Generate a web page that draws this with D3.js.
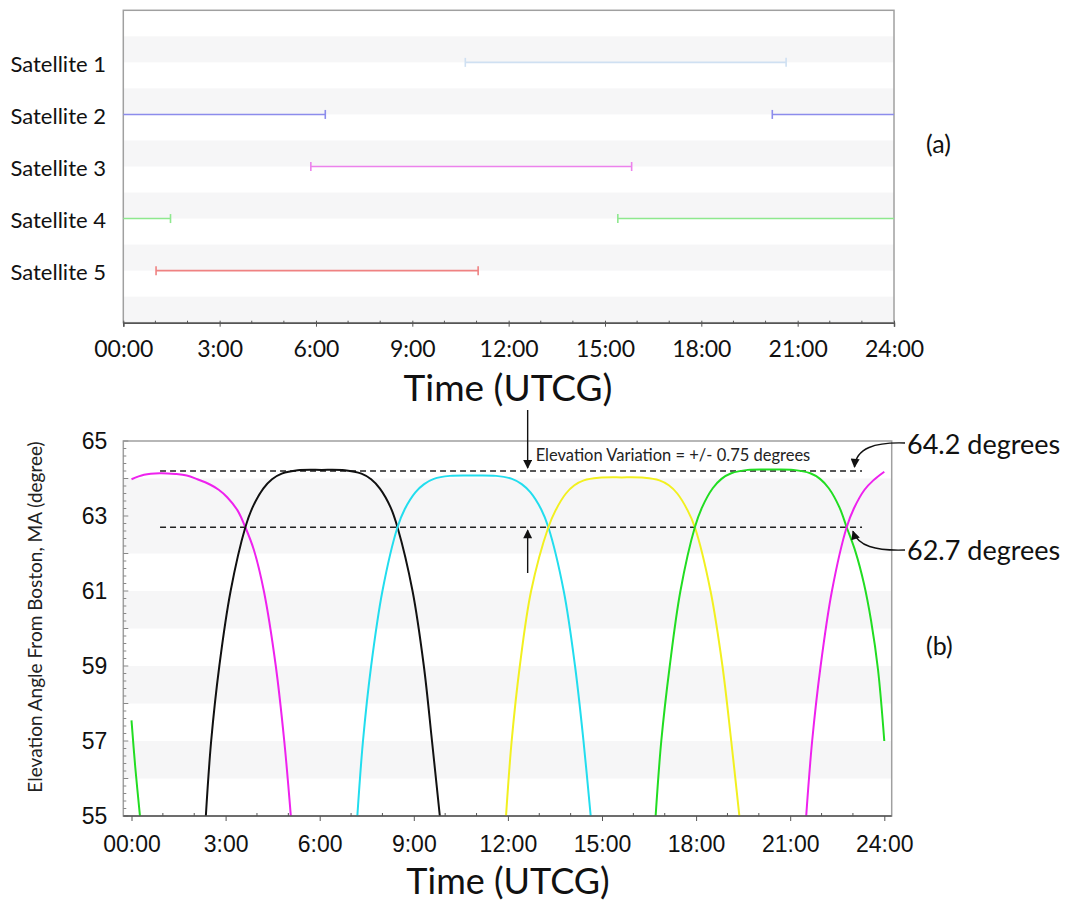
<!DOCTYPE html>
<html>
<head>
<meta charset="utf-8">
<script src="https://cdn.jsdelivr.net/npm/d3@7"></script>
<style>
  body { margin: 0; background: #fff; }
  svg { display: block; font-family: Lato, "Open Sans", sans-serif; }
</style>
</head>
<body>
<div id="chart"></div>
<script>
// ---- data ----
const satellites = ["Satellite 1", "Satellite 2", "Satellite 3", "Satellite 4", "Satellite 5"];
const satColors = ["#cfe0f2", "#8c8cec", "#ec82ec", "#8ee88e", "#ef8282"];
// access windows per satellite, hours UTCG
const accessWindows = [
  [[10.65, 20.64]],
  [[0, 6.29], [20.21, 24]],
  [[5.84, 15.83]],
  [[0, 1.47], [15.4, 24]],
  [[1.02, 11.05]]
];

const hourTicks = [0, 3, 6, 9, 12, 15, 18, 21, 24];
const elevTicks = [55, 57, 59, 61, 63, 65];

// elevation passes [hour, degrees]
const passGreenA = [[0, 57.55], [0.12, 56.3], [0.27, 55]];
const passMagentaA = [[0, 63.98], [0.4, 64.1], [0.9, 64.14], [1.4, 64.12], [1.76, 64.08], [2.1, 63.98],
  [2.5, 63.84], [2.78, 63.7], [3.05, 63.5], [3.38, 63.15], [3.63, 62.7], [3.9, 62.1], [4.22, 61],
  [4.6, 59], [4.87, 57], [5.08, 55]];
const passBlack = [[2.37, 55], [2.54, 57], [2.8, 59], [3.16, 61], [3.63, 62.7], [3.86, 63.23], [4.2, 63.73],
  [4.48, 63.98], [4.79, 64.13], [5.3, 64.22], [6.06, 64.23], [6.8, 64.22], [7.33, 64.13], [7.64, 63.98],
  [7.92, 63.73], [8.26, 63.23], [8.48, 62.7], [8.96, 61], [9.32, 59], [9.58, 57], [9.83, 55]];
const passCyan = [[7.2, 55], [7.38, 57], [7.64, 59], [8.0, 61], [8.48, 62.7], [8.71, 63.18], [9.05, 63.63],
  [9.33, 63.85], [9.64, 63.99], [10.15, 64.07], [10.89, 64.08], [11.62, 64.07], [12.13, 63.99],
  [12.44, 63.85], [12.72, 63.63], [13.06, 63.18], [13.29, 62.7], [13.78, 61], [14.14, 59], [14.41, 57], [14.64, 55]];
const passYellow = [[11.94, 55], [12.12, 57], [12.38, 59], [12.74, 61], [13.29, 62.7], [13.52, 63.15],
  [13.85, 63.6], [14.12, 63.82], [14.42, 63.95], [14.9, 64.02], [15.63, 64.03], [16.35, 64.02],
  [16.83, 63.95], [17.13, 63.82], [17.4, 63.6], [17.73, 63.15], [17.96, 62.7], [18.46, 61],
  [18.84, 59], [19.12, 57], [19.38, 55]];
const passGreenB = [[16.71, 55], [16.89, 57], [17.16, 59], [17.5, 61], [17.96, 62.7], [18.19, 63.23],
  [18.53, 63.74], [18.81, 63.99], [19.12, 64.14], [19.65, 64.23], [20.38, 64.24], [21.1, 64.23],
  [21.64, 64.14], [21.95, 63.99], [22.23, 63.74], [22.57, 63.23], [22.8, 62.7], [23.08, 62.05],
  [23.35, 61.2], [23.58, 60.2], [23.8, 58.9], [24, 57]];
const passMagentaB = [[21.51, 55], [21.7, 57], [21.97, 59], [22.33, 61], [22.8, 62.7], [23.03, 63.2],
  [23.37, 63.7], [23.65, 63.95], [24, 64.18]];

const passes = [
  { pts: passGreenA, color: "#22dd22" },
  { pts: passMagentaA, color: "#ee22ee" },
  { pts: passBlack, color: "#111111" },
  { pts: passCyan, color: "#22ddee" },
  { pts: passYellow, color: "#f2f020" },
  { pts: passGreenB, color: "#22dd22" },
  { pts: passMagentaB, color: "#ee22ee" }
];

const upperLevel = 64.2, lowerLevel = 62.7;

const svg = d3.select("#chart").append("svg").attr("width", 1075).attr("height", 903);

const fmtHour = (h) => (h === 0 ? "00:00" : h + ":00");

// arrow marker
const defs = svg.append("defs");
defs.append("marker")
  .attr("id", "arrow")
  .attr("viewBox", "0 0 10 10")
  .attr("refX", 9).attr("refY", 5)
  .attr("markerWidth", 10).attr("markerHeight", 9)
  .attr("markerUnits", "userSpaceOnUse")
  .attr("orient", "auto")
  .append("path").attr("d", "M0,0 L10,5 L0,10 z").attr("fill", "#111");

// ================= (a) access chart =================
const ax = d3.scaleLinear().domain([0, 24]).range([123.3, 894]);
const ay = d3.scaleLinear().domain([0, 6]).range([10.3, 322.7]);

const topG = svg.append("g");

// alternating bands
topG.selectAll("rect.band")
  .data(d3.range(1, 7))
  .join("rect")
  .attr("class", "band")
  .attr("x", ax(0)).attr("width", ax(24) - ax(0))
  .attr("y", (d) => ay(d - 0.5)).attr("height", (d) => ay(d) - ay(d - 0.5))
  .attr("fill", "#f6f6f7");

// frame
topG.append("rect")
  .attr("x", ax(0)).attr("y", ay(0))
  .attr("width", ax(24) - ax(0)).attr("height", ay(6) - ay(0))
  .attr("fill", "none").attr("stroke", "#a0a0a0").attr("stroke-width", 1.5);

// access bars
satellites.forEach((s, i) => {
  const y = ay(i + 1);
  const g = topG.append("g");
  accessWindows[i].forEach(([a, b]) => {
    g.append("line")
      .attr("x1", ax(a)).attr("x2", ax(b)).attr("y1", y).attr("y2", y)
      .attr("stroke", satColors[i]).attr("stroke-width", 1.6);
    [a, b].filter((t) => t > 0 && t < 24).forEach((t) => {
      g.append("line")
        .attr("x1", ax(t)).attr("x2", ax(t)).attr("y1", y - 4.5).attr("y2", y + 4.5)
        .attr("stroke", satColors[i]).attr("stroke-width", 1.6);
    });
  });
  topG.append("text")
    .attr("x", 106).attr("y", y + 1)
    .attr("text-anchor", "end").attr("dominant-baseline", "central")
    .attr("font-size", 22).attr("fill", "#111")
    .text(s);
});

// x axis (a)
const topAxis = topG.append("g").attr("transform", `translate(0,${ay(6)})`);
topAxis.call(d3.axisBottom(ax).tickValues(hourTicks).tickFormat(fmtHour).tickSize(4).tickPadding(14));
topAxis.select(".domain").attr("stroke", "#555").attr("stroke-width", 1.5);
topAxis.selectAll(".tick line").attr("stroke", "#555").attr("y1", -2);
topAxis.selectAll(".tick text").attr("font-size", 23).attr("fill", "#111").attr("font-family", "Lato");
topAxis.selectAll("line.minor")
  .data(d3.range(0, 25).filter((h) => h % 3 !== 0))
  .join("line").attr("class", "minor")
  .attr("x1", (d) => ax(d)).attr("x2", (d) => ax(d)).attr("y1", -2).attr("y2", 1)
  .attr("stroke", "#555");

topG.append("text")
  .attr("x", 508).attr("y", 401)
  .attr("text-anchor", "middle").attr("font-size", 37).attr("fill", "#111")
  .text("Time (UTCG)");

topG.append("text")
  .attr("x", 926).attr("y", 143).attr("dominant-baseline", "central")
  .attr("font-size", 25).attr("fill", "#111").text("(a)");

// ================= (b) elevation chart =================
const bx = d3.scaleLinear().domain([0, 24]).range([131.5, 884.3]);
const by = d3.scaleLinear().domain([55, 65]).range([816, 441]);
const frameL = 123.3, frameR = 891.7;

const bot = svg.append("g");

const bandRanges = [[62, 64], [60, 61], [58, 59], [56, 57]];
bot.selectAll("rect.band")
  .data(bandRanges)
  .join("rect")
  .attr("class", "band")
  .attr("x", frameL).attr("width", frameR - frameL)
  .attr("y", (d) => by(d[1])).attr("height", (d) => by(d[0]) - by(d[1]))
  .attr("fill", "#f6f6f7");

defs.append("clipPath").attr("id", "plotclip")
  .append("rect").attr("x", frameL).attr("y", by(65)).attr("width", frameR - frameL).attr("height", by(55) - by(65));

bot.append("rect")
  .attr("x", frameL).attr("y", by(65))
  .attr("width", frameR - frameL).attr("height", by(55) - by(65))
  .attr("fill", "none").attr("stroke", "#a0a0a0").attr("stroke-width", 1.5);

// dashed reference levels
[upperLevel, lowerLevel].forEach((lv) => {
  bot.append("line")
    .attr("x1", bx(0.91)).attr("x2", bx(23.29))
    .attr("y1", by(lv)).attr("y2", by(lv))
    .attr("stroke", "#222").attr("stroke-width", 1.3).attr("stroke-dasharray", "6,4");
});

const line = d3.line().x((d) => bx(d[0])).y((d) => by(d[1])).curve(d3.curveCatmullRom.alpha(0.5));
bot.append("g").attr("clip-path", "url(#plotclip)")
  .selectAll("path.pass")
  .data(passes)
  .join("path")
  .attr("class", "pass")
  .attr("d", (d) => line(d.pts))
  .attr("fill", "none")
  .attr("stroke", (d) => d.color)
  .attr("stroke-width", 2);

// y axis
const yAxis = bot.append("g").attr("transform", `translate(${frameL},0)`);
yAxis.call(d3.axisLeft(by).tickValues(elevTicks).tickSize(0).tickPadding(16));
yAxis.select(".domain").remove();
yAxis.selectAll(".tick text").attr("font-size", 23).attr("fill", "#111");
yAxis.selectAll("line.minor")
  .data(d3.range(55, 65.01, 0.2))
  .join("line").attr("class", "minor")
  .attr("x1", 0).attr("x2", (d, i) => (i % 5 === 0 ? 5 : 3))
  .attr("y1", (d) => by(d)).attr("y2", (d) => by(d))
  .attr("stroke", "#888");

// x axis
const botAxis = bot.append("g").attr("transform", `translate(0,${by(55)})`);
botAxis.call(d3.axisBottom(bx).tickValues(hourTicks).tickFormat(fmtHour).tickSize(5).tickPadding(15));
botAxis.select(".domain").remove();
botAxis.append("line").attr("x1", frameL).attr("x2", frameR).attr("stroke", "#555").attr("stroke-width", 1.5);
botAxis.selectAll(".tick line").attr("stroke", "#555");
botAxis.selectAll(".tick text").attr("font-size", 23).attr("fill", "#111");
botAxis.selectAll("line.minor")
  .data(d3.range(0, 25).filter((h) => h % 3 !== 0))
  .join("line").attr("class", "minor")
  .attr("x1", (d) => bx(d)).attr("x2", (d) => bx(d)).attr("y1", -3).attr("y2", 0)
  .attr("stroke", "#555");

bot.append("text")
  .attr("x", 508).attr("y", 894)
  .attr("text-anchor", "middle").attr("font-size", 36).attr("fill", "#111")
  .text("Time (UTCG)");

bot.append("text")
  .attr("transform", `translate(34,${617}) rotate(-90)`)
  .attr("text-anchor", "middle").attr("dominant-baseline", "central")
  .attr("font-size", 19).attr("fill", "#222")
  .text("Elevation Angle From Boston, MA (degree)");

bot.append("text")
  .attr("x", 926).attr("y", 645).attr("dominant-baseline", "central")
  .attr("font-size", 25).attr("fill", "#111").text("(b)");

// annotations
const arrowH = 12.63;
bot.append("line")
  .attr("x1", bx(arrowH)).attr("x2", bx(arrowH))
  .attr("y1", 410).attr("y2", by(upperLevel) - 3)
  .attr("stroke", "#111").attr("stroke-width", 1.4).attr("marker-end", "url(#arrow)");
bot.append("line")
  .attr("x1", bx(arrowH)).attr("x2", bx(arrowH))
  .attr("y1", 573).attr("y2", by(lowerLevel) + 3)
  .attr("stroke", "#111").attr("stroke-width", 1.4).attr("marker-end", "url(#arrow)");

bot.append("text")
  .attr("x", bx(arrowH) + 8).attr("y", 461)
  .attr("font-size", 16.5).attr("fill", "#222")
  .text("Elevation Variation = +/- 0.75 degrees");

bot.append("path")
  .attr("d", `M905,443 C875,442 856,448 ${bx(23.05)},${by(upperLevel) - 4}`)
  .attr("fill", "none").attr("stroke", "#111").attr("stroke-width", 1.4).attr("marker-end", "url(#arrow)");
bot.append("path")
  .attr("d", `M905,550 C875,551 858,546 ${bx(23)},${by(lowerLevel) + 4}`)
  .attr("fill", "none").attr("stroke", "#111").attr("stroke-width", 1.4).attr("marker-end", "url(#arrow)");

bot.append("text")
  .attr("x", 907).attr("y", 443).attr("dominant-baseline", "central")
  .attr("font-size", 27).attr("fill", "#111").text("64.2 degrees");
bot.append("text")
  .attr("x", 907).attr("y", 549).attr("dominant-baseline", "central")
  .attr("font-size", 27).attr("fill", "#111").text("62.7 degrees");
</script>
</body>
</html>
